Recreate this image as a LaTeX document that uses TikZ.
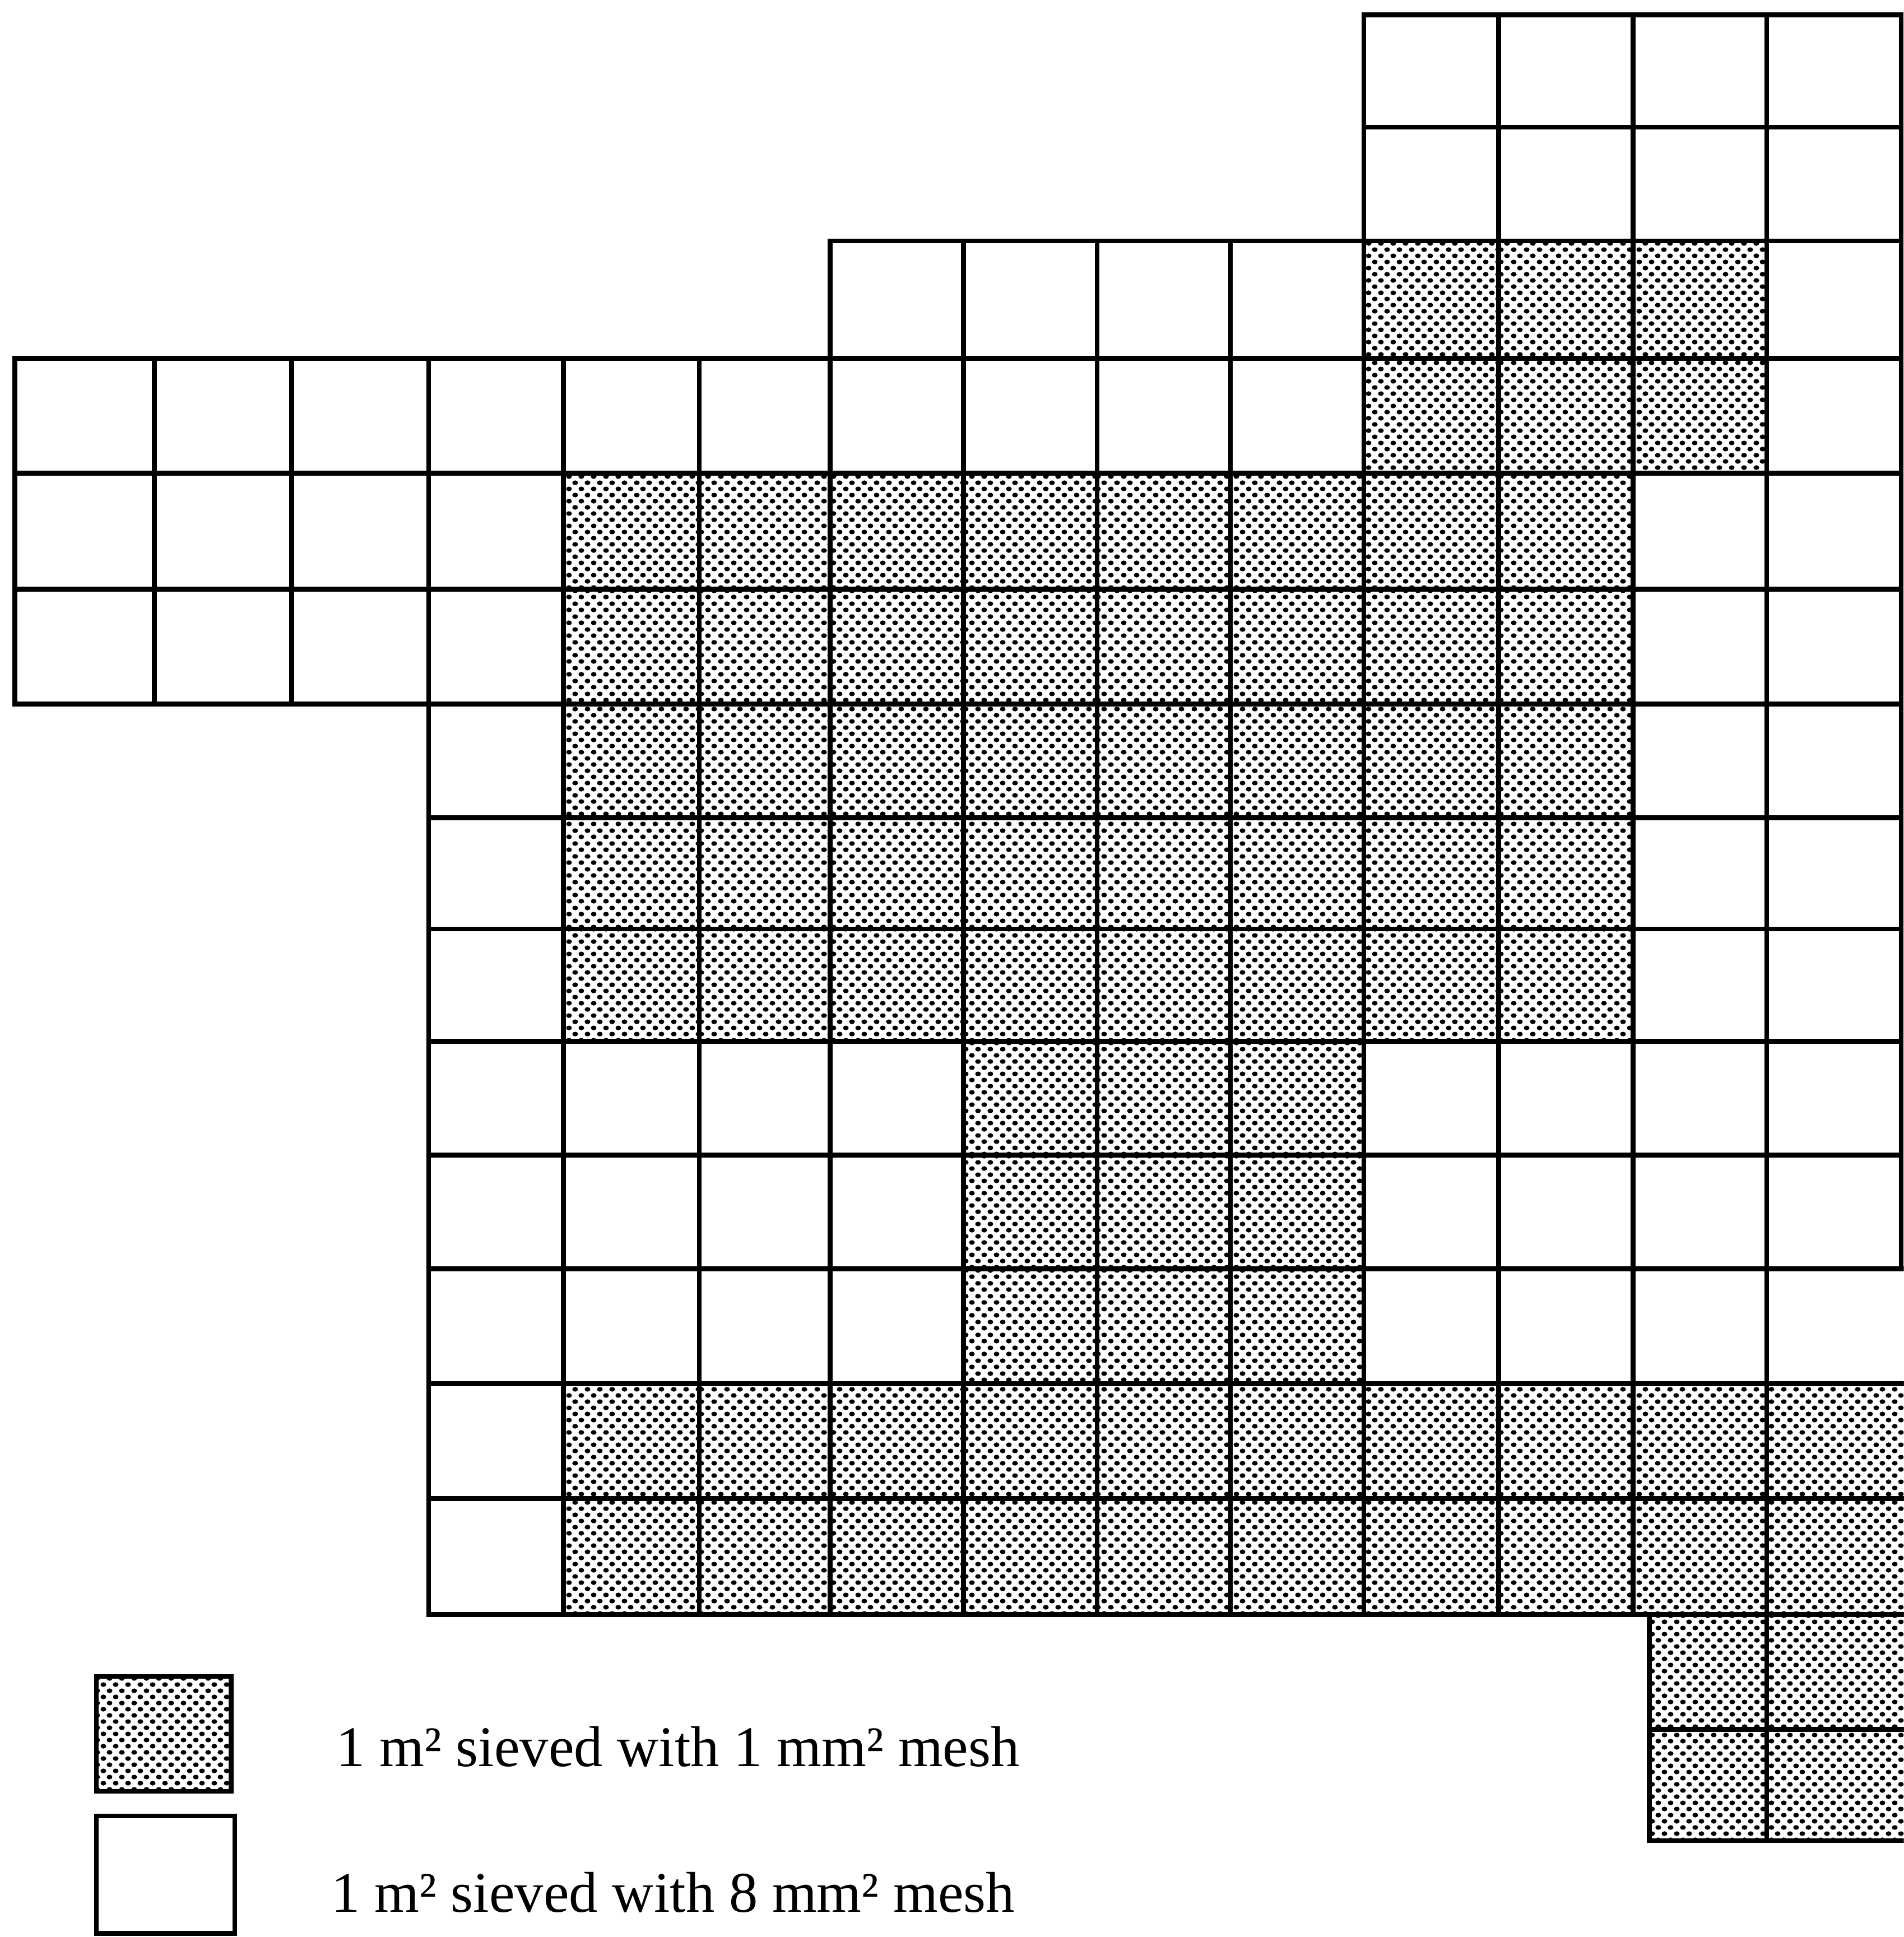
\documentclass[tikz,border=0pt]{standalone}
\usepackage{fontspec}
\setmainfont{Liberation Serif}
\usetikzlibrary{patterns.meta}

\tikzdeclarepattern{
  name=sievedots,
  type=uncolored,
  bounding box={(0pt,0pt) and (5.8pt,5.8pt)},
  tile size={(5.8pt,5.8pt)},
  code={
    \fill (1.45pt,1.45pt) ellipse (1.35pt and 1.1pt);
    \fill (4.35pt,4.35pt) ellipse (1.35pt and 1.1pt);
  }
}

\def\XS{{12,125,236,347,456,566,672,780,888,996,1104,1213,1322,1430,1539}}
\def\YS{{12,103,195,290,383,477,570,662,752,843,935,1027,1120,1213,1307,1400,1490}}

% row, first column, last column, style
\newcommand\cellrun[4]{%
  \foreach \c in {#2,...,#3}{%
    \pgfmathtruncatemacro\cc{\c}%
    \pgfmathsetmacro\xa{\XS[\c]}%
    \pgfmathsetmacro\xb{\XS[\c+1]}%
    \pgfmathsetmacro\ya{\YS[#1]}%
    \pgfmathsetmacro\yb{\YS[#1+1]}%
    \ifnum#1>10 \ifnum\cc=13 \def\xb{1550}\fi\fi
    \ifnum#1>13 \ifnum\cc=12 \def\xa{1335}\fi\fi
    \path[#4] (\xa,\ya) rectangle (\xb,\yb);
  }%
}

\begin{document}
\begin{tikzpicture}[x=0.02cm,y=-0.02cm,
  cell/.style={draw=black, line width=2.2pt, line join=miter},
  sieved/.style={cell, pattern=sievedots, pattern color=black},
  plain/.style={cell, fill=white},
  legendtext/.style={anchor=base west, inner sep=0pt, font=\fontsize{26.5}{30}\selectfont}]
\useasboundingbox (0,0) rectangle (1541,1568);
\clip (0,0) rectangle (1541,1568);

% rows 0-1
\cellrun{0}{10}{13}{plain}
\cellrun{1}{10}{13}{plain}
% row 2
\cellrun{2}{6}{9}{plain}
\cellrun{2}{10}{12}{sieved}
\cellrun{2}{13}{13}{plain}
% row 3
\cellrun{3}{0}{9}{plain}
\cellrun{3}{10}{12}{sieved}
\cellrun{3}{13}{13}{plain}
% rows 4-5
\foreach \r in {4,5}{
  \cellrun{\r}{0}{3}{plain}
  \cellrun{\r}{4}{11}{sieved}
  \cellrun{\r}{12}{13}{plain}
}
% rows 6-8
\foreach \r in {6,7,8}{
  \cellrun{\r}{3}{3}{plain}
  \cellrun{\r}{4}{11}{sieved}
  \cellrun{\r}{12}{13}{plain}
}
% rows 9-11
\foreach \r in {9,10,11}{
  \cellrun{\r}{3}{6}{plain}
  \cellrun{\r}{7}{9}{sieved}
  \cellrun{\r}{10}{13}{plain}
}
% rows 12-13
\foreach \r in {12,13}{
  \cellrun{\r}{3}{3}{plain}
  \cellrun{\r}{4}{13}{sieved}
}
% rows 14-15
\foreach \r in {14,15}{
  \cellrun{\r}{12}{13}{sieved}
}

% legend
\path[sieved] (78,1357) rectangle (187,1450);
\path[plain] (78,1470) rectangle (190,1565);
\node[legendtext] (leg1) at (272,1430) {1 m² sieved with 1 mm² mesh};
\node[legendtext] (leg2) at (268,1548) {1 m² sieved with 8 mm² mesh};
\end{tikzpicture}
\end{document}
